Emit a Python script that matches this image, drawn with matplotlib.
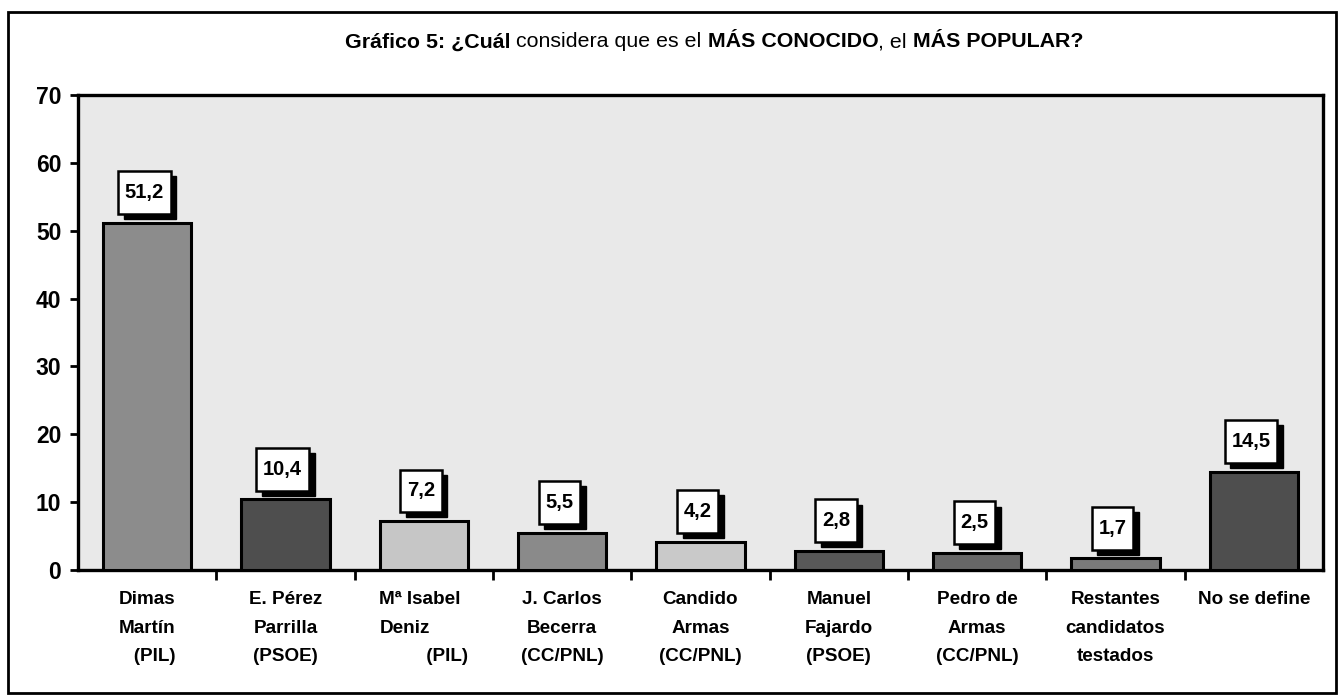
import numpy as np
import matplotlib
matplotlib.use("Agg")
import matplotlib.pyplot as plt
from matplotlib.patches import Rectangle

# Datos
categorias = ["Dimas\nMartín\n   (PIL)",
              "E. Pérez\nParrilla\n(PSOE)",
              "Mª Isabel\nDeniz\n         (PIL)",
              "J. Carlos\nBecerra\n(CC/PNL)",
              "Candido\nArmas\n(CC/PNL)",
              "Manuel\nFajardo\n(PSOE)",
              "Pedro de\nArmas\n(CC/PNL)",
              "Restantes\ncandidatos\ntestados",
              "No se define\n\n"]
valores = [51.2, 10.4, 7.2, 5.5, 4.2, 2.8, 2.5, 1.7, 14.5]
etiquetas = ["51,2", "10,4", "7,2", "5,5", "4,2", "2,8", "2,5", "1,7", "14,5"]
colores = ["#8c8c8c", "#4e4e4e", "#c6c6c6", "#8a8a8a", "#c9c9c9",
           "#585858", "#676767", "#7a7a7a", "#4e4e4e"]
alineacion = ["center", "center", "left", "center", "center",
              "center", "center", "center", "center"]

titulo = [("Gráfico 5: ¿Cuál", "bold"), (" considera que es el ", "normal"),
          ("MÁS CONOCIDO", "bold"), (", el ", "normal"), ("MÁS POPULAR?", "bold")]

fuente = ["Liberation Sans", "DejaVu Sans"]

fig = plt.figure(figsize=(13.4, 6.97), dpi=100)
ax = fig.add_axes([0.0582, 0.1822, 0.9291, 0.6815])
ax.set_facecolor("#e9e9e9")

x = np.arange(len(valores))
ax.bar(x, valores, width=0.64, color=colores, edgecolor="black", linewidth=2.2, zorder=3)

# cajas de valores con sombra
for xi, v, lab in zip(x, valores, etiquetas):
    w = 0.08 * len(lab) + 0.06
    h = 6.3
    x0 = xi - 0.02 - w / 2
    y0 = v + 1.3
    ax.add_patch(Rectangle((x0 + 0.04, y0 - 0.75), w, h, facecolor="black",
                           edgecolor="black", zorder=4))
    ax.add_patch(Rectangle((x0, y0), w, h, facecolor="white",
                           edgecolor="black", linewidth=1.8, zorder=5))
    ax.text(x0 + w / 2, y0 + h / 2, lab, ha="center", va="center",
            fontsize=14.5, fontweight="bold", family=fuente, zorder=6)

ax.set_xlim(-0.5, len(valores) - 0.5)
ax.set_ylim(0, 70)
ax.set_yticks(range(0, 71, 10))
ax.set_yticklabels([str(t) for t in range(0, 71, 10)], fontsize=16.5,
                   fontweight="bold", family=fuente)
ax.tick_params(axis="y", length=6, width=2, pad=6)

ax.set_xticks(x)
ax.set_xticklabels(categorias, fontsize=13.6, fontweight="bold", family=fuente,
                   linespacing=1.9, va="top")
for t, al in zip(ax.get_xticklabels(), alineacion):
    t.set_multialignment(al)
ax.tick_params(axis="x", length=0, pad=15)
ax.set_xticks(np.arange(0.5, len(valores) - 1, 1), minor=True)
ax.tick_params(axis="x", which="minor", length=7, width=2)

for s in ax.spines.values():
    s.set_linewidth(2.4)

# marco exterior
fig.patches.append(Rectangle((8 / 1340, 4 / 697), 1328 / 1340, 681 / 697,
                             transform=fig.transFigure, fill=False,
                             edgecolor="black", linewidth=2))

# titulo con partes en negrita
renderer = fig.canvas.get_renderer()
piezas = []
xpos = 0.0
for txt, peso in titulo:
    t = fig.text(xpos, 0.94, txt, fontsize=15.4, fontweight=peso,
                 family=fuente, va="center", ha="left")
    bb = t.get_window_extent(renderer)
    piezas.append(t)
    xpos += bb.width / fig.bbox.width
acum = 0.533 - xpos / 2
for t in piezas:
    ancho = t.get_window_extent(renderer).width / fig.bbox.width
    t.set_x(acum)
    acum += ancho

fig.savefig("out.png", dpi=100)
